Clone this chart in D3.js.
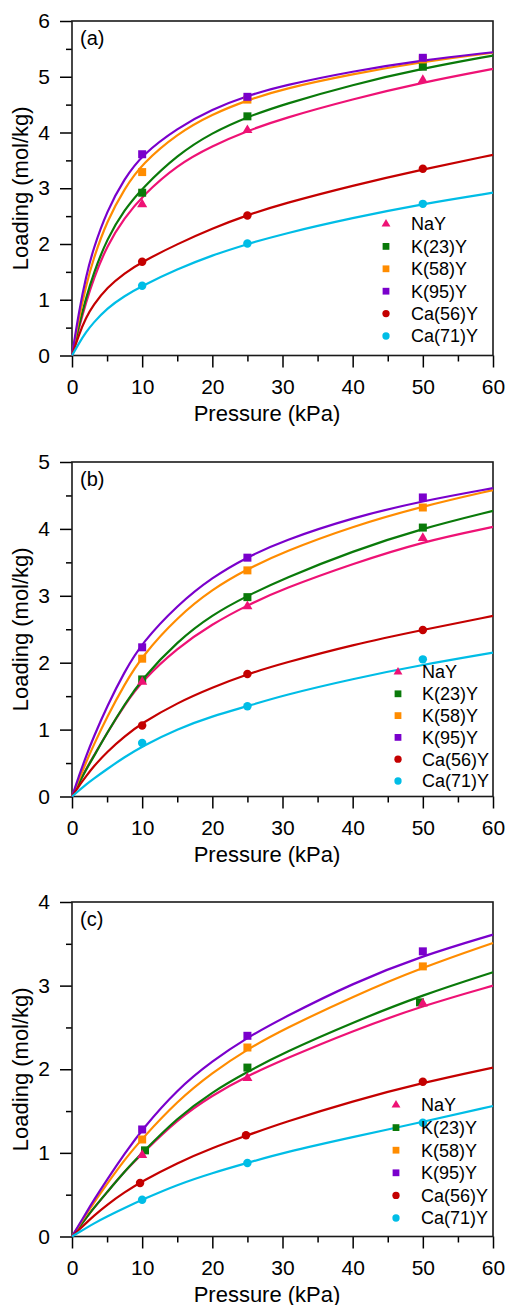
<!DOCTYPE html>
<html>
<head>
<meta charset="utf-8">
<script src="https://cdn.jsdelivr.net/npm/d3@7"></script>
<style>
  body { margin: 0; background: #fff; }
  text { font-family: "Liberation Sans", Arial, sans-serif; fill: #000; }
</style>
</head>
<body>
<div id="chart"></div>
<script>
// series order as in the legend
var series = ["NaY", "K(23)Y", "K(58)Y", "K(95)Y", "Ca(56)Y", "Ca(71)Y"];
var colors = ["#ee1275", "#0a7a0a", "#ff8c00", "#7a00cc", "#c40000", "#00bde6"];
var shapes = ["triangle", "square", "square", "square", "circle", "circle"];

// pressures (kPa) where the fitted curves were read
var pressure = [0, 1, 2, 3, 5, 7.5, 10, 15, 20, 25, 30, 40, 50, 60];
// pressures of the measured points
var markerP = [10, 25, 50];

var panelLabels = ["(a)", "(b)", "(c)"];
var yMax = [6, 5, 4];
var xTicks = [0, 10, 20, 30, 40, 50, 60];

// panel (a) fitted curves, one list per series
var curvesA = [
  [0, 0.50, 0.95, 1.35, 1.98, 2.47, 2.86, 3.42, 3.76, 4.03, 4.25, 4.60, 4.90, 5.14],
  [0, 0.55, 1.03, 1.45, 2.10, 2.62, 3.00, 3.60, 4.00, 4.28, 4.50, 4.86, 5.15, 5.38],
  [0, 0.68, 1.25, 1.72, 2.42, 3.00, 3.44, 3.98, 4.33, 4.58, 4.78, 5.05, 5.27, 5.43],
  [0, 0.80, 1.42, 1.90, 2.60, 3.18, 3.60, 4.08, 4.42, 4.66, 4.84, 5.10, 5.30, 5.44],
  [0, 0.38, 0.68, 0.90, 1.22, 1.48, 1.68, 2.00, 2.28, 2.52, 2.72, 3.05, 3.34, 3.60],
  [0, 0.22, 0.42, 0.58, 0.85, 1.07, 1.25, 1.55, 1.80, 2.00, 2.18, 2.47, 2.72, 2.92]
];
var pointsA = [
  [2.72, 4.05, 4.95],
  [2.92, 4.29, 5.18],
  [3.29, 4.59, 5.31],
  [3.61, 4.64, 5.34],
  [1.68, 2.51, 3.35],
  [1.25, 2.01, 2.72]
];

// panel (b)
var curvesB = [
  [0, 0.21, 0.41, 0.59, 0.95, 1.37, 1.73, 2.22, 2.58, 2.86, 3.10, 3.48, 3.81, 4.03],
  [0, 0.20, 0.40, 0.58, 0.95, 1.38, 1.76, 2.32, 2.72, 3.00, 3.25, 3.67, 4.01, 4.27],
  [0, 0.26, 0.51, 0.75, 1.19, 1.68, 2.10, 2.68, 3.10, 3.40, 3.65, 4.04, 4.34, 4.58],
  [0, 0.31, 0.60, 0.87, 1.35, 1.87, 2.30, 2.86, 3.28, 3.58, 3.82, 4.17, 4.42, 4.61],
  [0, 0.16, 0.30, 0.44, 0.67, 0.90, 1.10, 1.40, 1.63, 1.83, 1.99, 2.27, 2.49, 2.70],
  [0, 0.09, 0.18, 0.26, 0.41, 0.59, 0.75, 1.01, 1.20, 1.35, 1.51, 1.76, 1.97, 2.15]
];
var pointsB = [
  [1.72, 2.85, 3.87],
  [1.75, 2.98, 4.02],
  [2.06, 3.38, 4.32],
  [2.23, 3.57, 4.47],
  [1.06, 1.83, 2.49],
  [0.80, 1.35, 2.05]
];

// panel (c)
var curvesC = [
  [0, 0.11, 0.22, 0.33, 0.53, 0.78, 0.99, 1.40, 1.69, 1.92, 2.11, 2.46, 2.76, 3.00],
  [0, 0.11, 0.22, 0.33, 0.53, 0.78, 1.00, 1.42, 1.73, 1.97, 2.19, 2.56, 2.89, 3.16],
  [0, 0.13, 0.26, 0.39, 0.63, 0.92, 1.17, 1.62, 1.96, 2.24, 2.47, 2.87, 3.22, 3.51],
  [0, 0.14, 0.28, 0.42, 0.68, 0.99, 1.28, 1.76, 2.10, 2.38, 2.61, 3.03, 3.36, 3.61],
  [0, 0.08, 0.16, 0.24, 0.38, 0.53, 0.66, 0.88, 1.06, 1.21, 1.36, 1.62, 1.84, 2.02],
  [0, 0.05, 0.10, 0.15, 0.24, 0.34, 0.44, 0.62, 0.76, 0.88, 1.00, 1.19, 1.37, 1.56]
];
var pointsC = [
  [0.98, 1.90, 2.79],
  [1.03, 2.02, 2.80],
  [1.16, 2.26, 3.23],
  [1.28, 2.40, 3.41],
  [0.64, 1.21, 1.85],
  [0.44, 0.88, 1.36]
];
// in (c) a few points sit slightly off the nominal pressures
var markerPC = [
  [10, 25, 50],
  [10.4, 25, 49.6],
  [10, 25, 50],
  [10, 25, 50],
  [9.7, 24.8, 50],
  [10, 25, 50]
];

var allCurves = [curvesA, curvesB, curvesC];
var allPoints = [pointsA, pointsB, pointsC];
var allMarkerP = [null, null, markerPC];

// layout
var svgWidth = 507, svgHeight = 1305;
var plotLeft = 72, plotRight = 493;
var panelTops = [21, 462, 902];
var panelHeight = 334.5;
var legendPos = [
  { sx: 386, tx: 411, y: 224, dy: 22.4 },
  { sx: 398, tx: 422, y: 672, dy: 21.8 },
  { sx: 396, tx: 421, y: 1105, dy: 22.6 }
];
// draw order of the markers (last on top)
var drawOrder = [1, 2, 3, 0, 4, 5];

var svg = d3.select("#chart")
  .append("svg")
  .attr("width", svgWidth)
  .attr("height", svgHeight);

function symbolPath(shape, size) {
  var type = shape === "triangle" ? d3.symbolTriangle
    : shape === "square" ? d3.symbolSquare : d3.symbolCircle;
  return d3.symbol().type(type).size(size)();
}

var markerSize = { triangle: 44, square: 64, circle: 56 };
var legendSize = { triangle: 34, square: 46, circle: 42 };

panelTops.forEach(function(top, p) {
  var width = plotRight - plotLeft;
  var height = panelHeight;

  var g = svg.append("g")
    .attr("transform", `translate(${plotLeft}, ${top})`);

  var x = d3.scaleLinear().domain([0, 60]).range([0, width]);
  var y = d3.scaleLinear().domain([0, yMax[p]]).range([height, 0]);

  // minor ticks
  g.append("g")
    .attr("transform", `translate(0, ${height})`)
    .call(d3.axisBottom(x).tickValues(d3.range(5, 60, 10)).tickSize(6).tickFormat(""))
    .call(a => a.select(".domain").remove());
  g.append("g")
    .call(d3.axisLeft(y).tickValues(d3.range(0.5, yMax[p], 1)).tickSize(6).tickFormat(""))
    .call(a => a.select(".domain").remove());

  // major ticks
  var bottomAxis = g.append("g")
    .attr("transform", `translate(0, ${height})`)
    .call(d3.axisBottom(x).tickValues(xTicks).tickSize(12).tickPadding(12).tickFormat(d3.format("d")));
  bottomAxis.select(".domain").remove();
  bottomAxis.selectAll("text").attr("font-size", "21px");

  var leftAxis = g.append("g")
    .call(d3.axisLeft(y).tickValues(d3.range(0, yMax[p] + 1, 1)).tickSize(12).tickPadding(10).tickFormat(d3.format("d")));
  leftAxis.select(".domain").remove();
  leftAxis.selectAll("text").attr("font-size", "21px");

  g.selectAll(".tick line").attr("stroke", "#000").attr("stroke-width", 1.5);
  g.selectAll(".tick text").style("font-family", "'Liberation Sans', Arial, sans-serif");

  // frame
  g.append("rect")
    .attr("width", width)
    .attr("height", height)
    .attr("fill", "none")
    .attr("stroke", "#1a1a1a")
    .attr("stroke-width", 1.6);

  // fitted curves
  var line = d3.line()
    .x((d, i) => x(pressure[i]))
    .y(d => y(d))
    .curve(d3.curveBasis);

  var curves = allCurves[p];
  curves.forEach(function(vals, s) {
    g.append("path")
      .datum(vals)
      .attr("d", line)
      .attr("fill", "none")
      .attr("stroke", colors[s])
      .attr("stroke-width", 2.2);
  });

  // measured points
  var pts = allPoints[p];
  drawOrder.forEach(function(s) {
    var px = allMarkerP[p] ? allMarkerP[p][s] : markerP;
    pts[s].forEach(function(v, i) {
      g.append("path")
        .attr("d", symbolPath(shapes[s], markerSize[shapes[s]]))
        .attr("transform", `translate(${x(px[i])}, ${y(v) + (shapes[s] === "triangle" ? 0.5 : 0)})`)
        .attr("fill", colors[s]);
    });
  });

  // panel label
  g.append("text")
    .attr("x", 8)
    .attr("y", 24)
    .attr("font-size", "20px")
    .text(panelLabels[p]);

  // axis titles
  g.append("text")
    .attr("x", 267 - plotLeft)
    .attr("y", height + 65)
    .attr("text-anchor", "middle")
    .attr("font-size", "22px")
    .text("Pressure (kPa)");

  g.append("text")
    .attr("transform", "rotate(-90)")
    .attr("x", -height / 2)
    .attr("y", 28 - plotLeft)
    .attr("text-anchor", "middle")
    .attr("font-size", "22px")
    .text("Loading (mol/kg)");

  // legend
  var lp = legendPos[p];
  series.forEach(function(name, s) {
    var ly = lp.y + s * lp.dy;
    svg.append("path")
      .attr("d", symbolPath(shapes[s], legendSize[shapes[s]]))
      .attr("transform", `translate(${lp.sx}, ${ly})`)
      .attr("fill", colors[s]);
    svg.append("text")
      .attr("x", lp.tx)
      .attr("y", ly)
      .attr("dy", "0.35em")
      .attr("font-size", "18px")
      .text(name);
  });
});
</script>
</body>
</html>
